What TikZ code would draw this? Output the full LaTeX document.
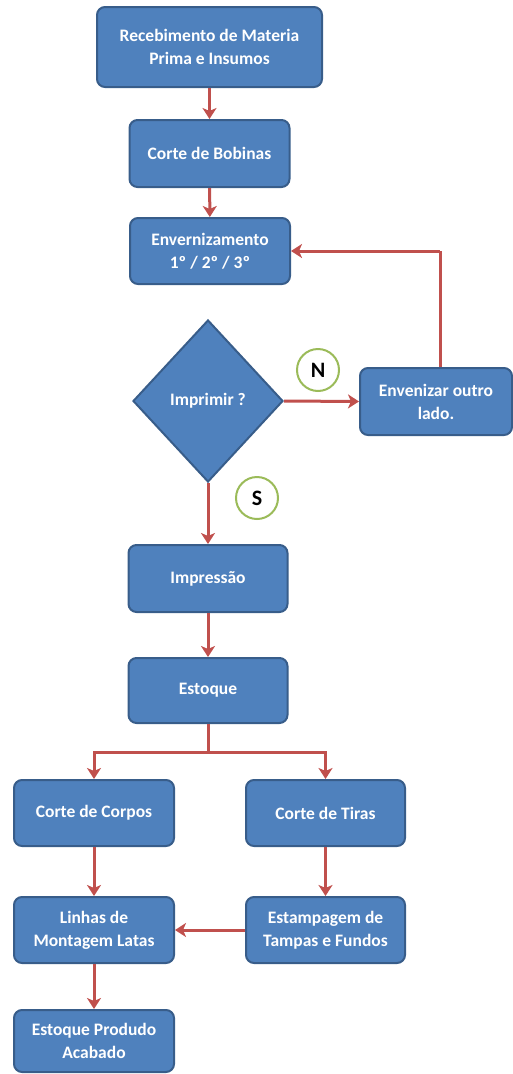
\documentclass[tikz,border=0pt]{standalone}
\usepackage{fontspec}
\setmainfont{Carlito}
\usetikzlibrary{shapes.geometric,arrows.meta}
\definecolor{boxblue}{HTML}{4F81BD}
\definecolor{boxborder}{HTML}{385D8A}
\definecolor{arrred}{HTML}{C0504D}
\definecolor{circgreen}{HTML}{9BBB59}
\begin{document}
\begin{tikzpicture}[x=1pt,y=-1pt,
  box/.style={draw=boxborder, line width=2pt, fill=boxblue, rounded corners=8pt,
    text=white, font=\bfseries\fontsize{17.5}{23}\selectfont, align=center,
    inner sep=2pt, minimum width=160pt, minimum height=66pt},
  decision/.style={diamond, draw=boxborder, line width=2pt, fill=boxblue,
    text=white, font=\bfseries\fontsize{17.5}{23}\selectfont, align=center,
    minimum width=150pt, minimum height=162pt, inner sep=0pt},
  tag/.style={circle, draw=circgreen, line width=2pt, fill=white,
    font=\bfseries\fontsize{22}{26}\selectfont, minimum size=42pt, inner sep=0pt},
  flow/.style={draw=arrred, line width=3pt, -{Stealth[length=11pt,width=14pt,inset=3pt]}},
  plain/.style={draw=arrred, line width=3pt}
]
\useasboundingbox (0,0) rectangle (513,1074);

\node[box, minimum width=225pt, minimum height=80pt] (b1) at (209.5,47) {Recebimento de Materia\\Prima e Insumos};
\node[box, minimum height=67pt] (b2) at (209.5,153.5) {Corte de Bobinas};
\node[box] (b3) at (210,251) {Envernizamento\\1º / 2º / 3º};
\node[decision] (d) at (208,401) {Imprimir ?};
\node[box, minimum width=152pt, minimum height=67pt] (b4) at (436,401.5) {Envenizar outro\\lado.};
\node[box, minimum width=159pt, minimum height=67pt] (b5) at (208,578.5) {Impressão};
\node[box, minimum width=159pt, minimum height=65pt] (b6) at (208,690.5) {Estoque};
\node[box] (b7) at (94,813) {Corte de Corpos};
\node[box, minimum width=159pt] (b8) at (325.5,813) {Corte de Tiras};
\node[box] (b9) at (94,930) {Linhas de\\Montagem  Latas};
\node[box, minimum width=159pt] (b10) at (325.5,930) {Estampagem de\\Tampas e Fundos};
\node[box, minimum height=62pt] (b11) at (94,1041) {Estoque Produdo\\Acabado};

\node[tag] (n) at (318,370) {N};
\node[tag] (s) at (257,498) {S};

\coordinate (split) at (b6.south |- 0,752);
\coordinate (loop) at (440,251);

\draw[flow] (b1) -- (b2);
\draw[flow] (b2) -- (b3);
\draw[flow] (d.east) -- (b4.west);
\draw[plain] (b4.north -| loop) -- (loop);
\draw[flow] (loop) -- (b3.east);
\draw[flow] (d.south) -- (b5.north);
\draw[flow] (b5) -- (b6);
\draw[plain] (b6.south) -- (split);
\draw[flow] (split) -| (b7.north);
\draw[flow] (split) -| (b8.north);
\draw[flow] (b7) -- (b9);
\draw[flow] (b8) -- (b10);
\draw[flow] (b10) -- (b9);
\draw[flow] (b9) -- (b11);
\end{tikzpicture}
\end{document}
